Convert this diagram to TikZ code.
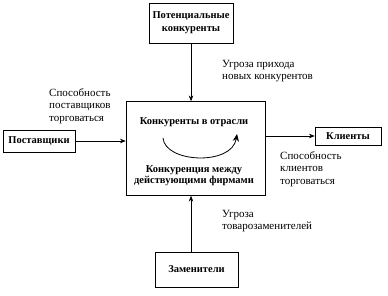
\documentclass[tikz,border=0pt]{standalone}
\usepackage{fontspec}
\setmainfont{Liberation Serif}
\usetikzlibrary{arrows.meta, positioning, calc}
\tikzset{
	force/.style={rectangle, draw=black, semithick, align=center, inner sep=2pt, font=\bfseries\fontsize{10.5}{13}\selectfont},
	inner/.style={align=center, inner sep=0pt, font=\bfseries\fontsize{10.5}{11}\selectfont},
	lbl/.style  ={align=left, anchor=north west, inner sep=0pt, font=\fontsize{11}{12.5}\selectfont},
	sig/.style  ={-{Stealth[length=2mm, width=1.6mm]}, semithick},
}

\begin{document}
\begin{tikzpicture}[x=1pt, y=-1pt]
	\useasboundingbox (0,0) rectangle (388,296);
	% industry rivalry
	\node[force, minimum width=139, minimum height=94] (ind) at (195.5,148.5) {};
	\node[inner] (ttl) at (194,122) {Конкуренты в отрасли};
	\node[inner] (riv) at (194,176) {Конкуренция между\\действующими фирмами};
	\draw[-{Stealth[length=2.6mm, width=2.2mm]}, thick] (163,138) .. controls (165,163) and (232,166) .. (237,134);
	% outer forces
	\node[force, minimum width=84, minimum height=40] (pot) at (191,23) {Потенциальные\\конкуренты};
	\node[force, minimum width=72, minimum height=22] (sup) at (39,141) {Поставщики};
	\node[force, minimum width=66, minimum height=18] (cli) at (348,136) {Клиенты};
	\node[force, minimum width=83, minimum height=35] (sub) at (196.5,269.5) {Заменители};
	% connectors
	\draw[sig] (pot.south) -- (pot.south |- ind.north);
	\draw[sig] (sub.north -| pot.south) -- (pot.south |- ind.south);
	\draw[sig] (sup.east) -- (sup.east -| ind.west);
	\draw[sig] (ind.east |- cli.west) -- (cli.west);
	% labels
	\node[lbl] (lsup) at (49,88) {Способность\\поставщиков\\торговаться};
	\node[lbl] (lpot) at (222,60) {Угроза прихода\\новых конкурентов};
	\node[lbl] (lcli) at (280,151) {Способность\\клиентов\\торговаться};
	\node[lbl] (lsub) at (222,210) {Угроза\\товарозаменителей};
\end{tikzpicture}
\end{document}
